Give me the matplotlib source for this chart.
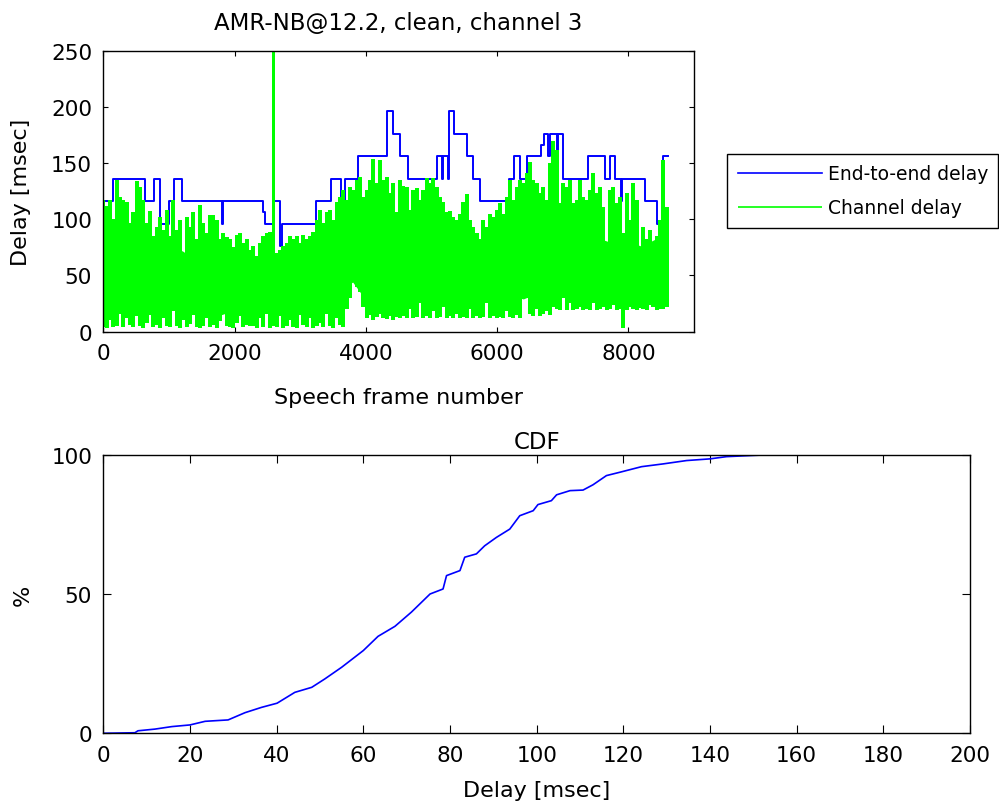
import numpy as np
import matplotlib
matplotlib.use("Agg")
import matplotlib.pyplot as plt

BLUE = "#0000ff"
GREEN = "#00ff00"

# end-to-end delay (msec): level holds from each change frame to the next one
e2e_change_frames = [40, 144, 639, 767, 859, 997, 1073, 1201, 1810, 1830, 2427, 2463,
                     2580, 2698, 2723, 3244, 3474, 3617, 3678, 3883, 4317, 4420, 4522,
                     4649, 5083, 5160, 5175, 5255, 5265, 5339, 5543, 5630, 5732, 6182,
                     6259, 6345, 6463, 6667, 6720, 6772, 6800, 6915, 6930, 7000, 7382,
                     7638, 7725, 7791, 7890, 7905, 8251, 8440, 8522]
e2e_levels = [116, 136, 116, 136, 96, 116, 136, 116, 96, 116, 106, 96,
              116, 76, 96, 116, 136, 116, 136, 156, 196, 176, 156,
              136, 156, 136, 156, 136, 196, 176, 156, 136, 116, 136,
              156, 136, 156, 166, 176, 156, 176, 116, 176, 136, 156,
              136, 156, 136, 116, 136, 116, 96, 156]
e2e_last_frame = 8600

# channel delay (msec): highest and lowest value in each short run of frames
chan_hi = [117, 112, 117, 100, 135, 120, 117, 115, 97, 106, 134, 129, 117, 97, 107,
           85, 93, 102, 90, 108, 85, 117, 90, 99, 70, 102, 93, 106, 82, 113,
           97, 88, 104, 104, 99, 82, 88, 84, 82, 75, 86, 88, 79, 82, 73,
           76, 67, 79, 85, 88, 89, 300, 70, 73, 76, 79, 85, 82, 85, 79,
           86, 82, 85, 89, 99, 108, 97, 106, 108, 99, 115, 120, 126, 117, 129,
           126, 135, 138, 120, 126, 135, 154, 132, 153, 135, 138, 123, 132, 106, 135,
           130, 129, 108, 126, 128, 117, 126, 137, 132, 137, 129, 120, 115, 106, 107,
           102, 99, 105, 115, 122, 99, 93, 88, 82, 99, 93, 105, 102, 108, 114,
           105, 120, 135, 117, 129, 135, 132, 141, 151, 135, 132, 123, 129, 117, 150,
           170, 162, 114, 132, 129, 135, 114, 117, 135, 120, 117, 126, 141, 123, 129,
           111, 76, 126, 129, 114, 120, 88, 123, 99, 132, 117, 70, 93, 82, 90,
           79, 85, 99, 153, 111]
chan_lo = [4, 3, 10, 4, 5, 16, 4, 12, 6, 4, 14, 5, 3, 8, 15,
           4, 6, 3, 12, 5, 4, 18, 5, 3, 10, 4, 7, 15, 4, 3,
           5, 12, 4, 6, 3, 9, 16, 5, 4, 3, 8, 14, 4, 6, 5,
           5, 3, 12, 4, 16, 3, 6, 4, 14, 3, 5, 10, 4, 3, 15,
           6, 4, 12, 3, 5, 8, 4, 16, 5, 3, 12, 6, 4, 20, 30,
           46, 40, 35, 22, 12, 15, 10, 13, 16, 12, 11, 14, 10, 13, 12,
           14, 12, 20, 12, 13, 25, 12, 14, 12, 18, 12, 13, 22, 12, 14,
           12, 16, 12, 13, 12, 20, 12, 14, 12, 13, 25, 12, 14, 12, 13,
           12, 18, 13, 12, 15, 12, 54, 30, 16, 14, 20, 14, 16, 18, 15,
           22, 20, 19, 30, 19, 25, 19, 20, 22, 19, 20, 19, 25, 19, 20,
           22, 19, 20, 24, 19, 20, 3, 19, 22, 20, 19, 21, 20, 19, 24,
           22, 19, 20, 20, 22]
chan_first_frame = 0
chan_last_frame = 8583

# solid body of the channel delay trace, every 200 frames
core_frames = list(range(0, 8601, 200))
core_top = [72, 68, 76, 70, 74, 66, 72, 64, 70, 62,
            68, 60, 66, 62, 58, 64, 70, 76, 84, 90,
            94, 98, 96, 92, 88, 86, 90, 82, 80, 76,
            78, 94, 102, 106, 100, 98, 90, 86, 82, 78,
            80, 76, 82, 86]
core_bottom = [20, 17, 22, 18, 17, 21, 16, 20, 18, 15,
               19, 16, 20, 17, 15, 18, 22, 28, 38, 44,
               28, 26, 30, 25, 28, 27, 31, 26, 29, 28,
               30, 32, 29, 34, 36, 33, 37, 34, 36, 33,
               35, 34, 36, 34]

# CDF of the delay
cdf_delay = [0, 7.3, 8, 11.9, 15.8, 20, 23.5, 28.8, 32.7, 36.5, 40.1, 44.2, 48.1,
             51.1, 55, 60, 63.4, 67.3, 71.1, 75.4, 78.4, 79.2, 82.3, 83.4, 86.1, 88,
             90.7, 93.8, 96.1, 99.2, 100.3, 103.4, 104.6, 107.7, 110.7, 113, 116.1,
             119.2, 124.2, 129.2, 134.6, 140, 143.8, 148, 153.8]
cdf_percent = [0, 0.2, 0.9, 1.5, 2.4, 3.0, 4.3, 4.8, 7.4, 9.3, 10.8, 14.7, 16.5,
               19.5, 23.7, 29.7, 34.8, 38.4, 43.5, 50, 51.8, 56.6, 58.4, 63.2, 64.4,
               67.3, 70.3, 73.3, 78.1, 79.9, 82.1, 83.5, 85.6, 87.1, 87.3, 89.2, 92.5,
               93.7, 95.7, 96.7, 97.9, 98.5, 99.3, 99.6, 100]

plt.rcParams["font.family"] = ["DejaVu Sans"]

fig = plt.figure(figsize=(9.99, 8.12), dpi=100)
fig.patch.set_facecolor("white")

ax1 = fig.add_axes([0.1034, 0.5905, 0.5913, 0.3458])
ax2 = fig.add_axes([0.1034, 0.0957, 0.8676, 0.3431])

# top: delay per speech frame
e2e_x = e2e_change_frames + [e2e_last_frame]
e2e_y = e2e_levels + [e2e_levels[-1]]
ax1.step(e2e_x, e2e_y, where="post", color=BLUE, lw=1.4, label="End-to-end delay")

chan_frames = np.linspace(chan_first_frame, chan_last_frame, len(chan_hi))
# the lone off-scale spike is a single frame, so keep it thin
spike_widths = [1.0 if v > 250 else 1.75 for v in chan_hi]
ax1.fill_between(core_frames, core_bottom, core_top, color=GREEN, lw=0,
                 antialiased=False)
ax1.vlines(chan_frames, chan_lo, chan_hi, color=GREEN, linewidths=spike_widths,
           antialiased=False, label="Channel delay")

ax1.set_xlim(0, 9000)
ax1.set_ylim(0, 250)
ax1.set_xticks(range(0, 8001, 2000))
ax1.set_yticks(range(0, 251, 50))
ax1.set_title("AMR-NB@12.2, clean, channel 3", fontsize=16.5, pad=16)
ax1.set_xlabel("Speech frame number", fontsize=16)
ax1.set_ylabel("Delay [msec]", fontsize=16)
ax1.xaxis.set_label_coords(0.5, -0.233)
ax1.xaxis.label.set_verticalalignment("center")
ax1.yaxis.set_label_coords(-0.139, 0.5)
ax1.yaxis.label.set_verticalalignment("center")
ax1.tick_params(direction="in", top=True, right=True, length=3.5, width=0.8,
                labelsize=15.5)
ax1.tick_params(axis="x", pad=8.5)
ax1.tick_params(axis="y", pad=8)

leg = ax1.legend(loc="upper left", bbox_to_anchor=(0.728, 0.809),
                 bbox_transform=fig.transFigure, borderaxespad=0, fontsize=13.5,
                 fancybox=False, framealpha=1, edgecolor="black",
                 handlelength=4.5, handletextpad=0.3, labelspacing=0.8,
                 borderpad=0.55)
leg.get_frame().set_linewidth(1.0)
leg.legend_handles[0].set_linewidth(1.2)
leg.legend_handles[1].set_linewidth(1.2)

# bottom: CDF
ax2.plot(cdf_delay, cdf_percent, color=BLUE, lw=1.2)
ax2.set_xlim(0, 200)
ax2.set_ylim(0, 100)
ax2.set_xticks(range(0, 201, 20))
ax2.set_yticks([0, 50, 100])
ax2.set_title("CDF", fontsize=16.5, pad=4.8)
ax2.set_xlabel("Delay [msec]", fontsize=16)
ax2.set_ylabel("%", fontsize=16)
ax2.xaxis.set_label_coords(0.5, -0.2035)
ax2.xaxis.label.set_verticalalignment("center")
ax2.yaxis.set_label_coords(-0.0927, 0.5)
ax2.yaxis.label.set_verticalalignment("center")
ax2.tick_params(direction="in", top=True, right=True, length=6, width=0.8,
                labelsize=15.5)
ax2.tick_params(axis="x", pad=8.5)
ax2.tick_params(axis="y", pad=8)

for ax in (ax1, ax2):
    for sp in ax.spines.values():
        sp.set_linewidth(1.0)

fig.savefig("out.png", dpi=100, facecolor="white")
